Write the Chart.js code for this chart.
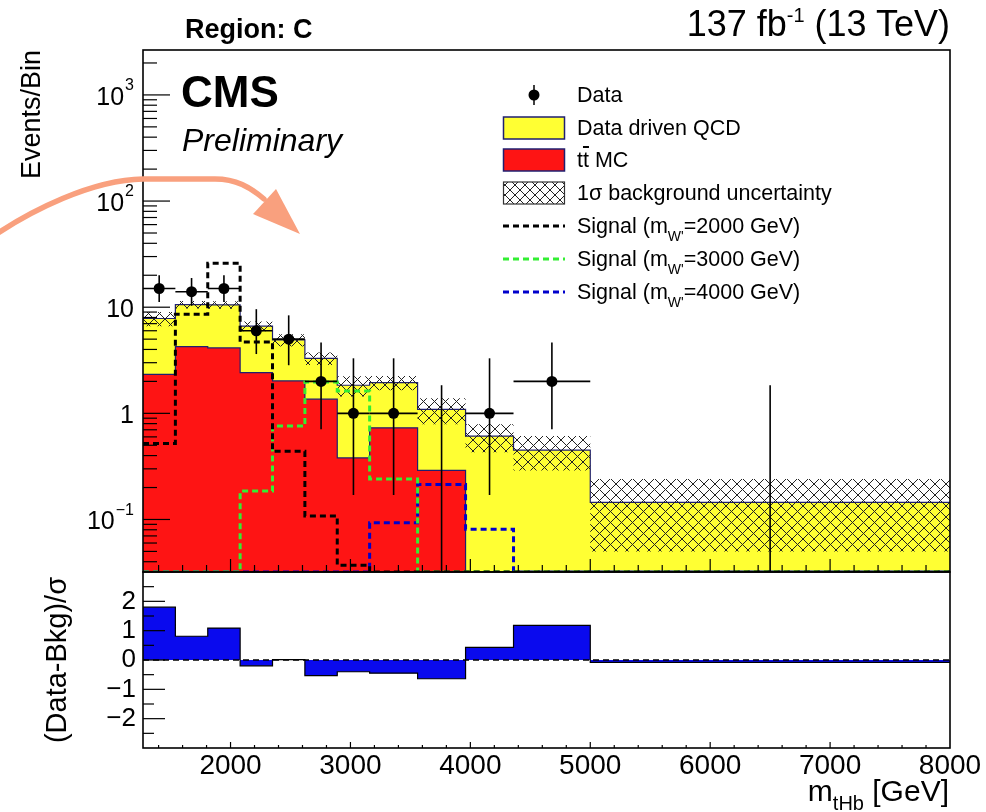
<!DOCTYPE html>
<html>
<head>
<meta charset="utf-8">
<script src="https://cdn.jsdelivr.net/npm/chart.js@4.4.0/dist/chart.umd.min.js"></script>
<style>
body{margin:0;background:#fff;}
#wrap{position:relative;width:986px;height:812px;overflow:hidden;background:#fff;font-family:"Liberation Sans",Arial,Helvetica,sans-serif;color:#000;}
#wrap canvas{position:absolute;left:0;top:0;}
#over{position:absolute;left:0;top:0;pointer-events:none;}
.t{position:absolute;white-space:nowrap;line-height:1;}
.lg{font-size:21.5px;left:577px;}
.sb{font-size:14px;position:relative;top:8px;}
</style>
</head>
<body>
<div id="wrap">
  <canvas id="cMain" width="986" height="812"></canvas>
  <canvas id="cRatio" width="986" height="812"></canvas>
  <svg id="over" width="986" height="812">
    <defs>
      <pattern id="hatchLeg" width="10" height="10" patternUnits="userSpaceOnUse">
        <path d="M0,0 L10,10 M10,0 L0,10" stroke="#222" stroke-width="1"/>
      </pattern>
    </defs>
    <g id="legSym"></g>
    <!-- annotation arrow -->
    <path d="M -2 233 C 30 212, 90 180, 143 179 L 215 179 C 236 179, 250 187, 264 199" fill="none" stroke="#f9a07e" stroke-width="5.5" stroke-linecap="round"/>
    <polygon points="300,234 253,214 276,189" fill="#f9a07e"/>
  </svg>
  <div class="t" style="left:185px;top:16px;font-size:27px;font-weight:bold;">Region: C</div>
  <div class="t" style="right:36px;top:6px;font-size:36px;">137 fb<span style="font-size:20px;position:relative;top:-14px;">-1</span> (13 TeV)</div>
  <div class="t" style="left:181px;top:70px;font-size:44px;font-weight:bold;">CMS</div>
  <div class="t" style="left:182px;top:124px;font-size:32px;font-style:italic;">Preliminary</div>
  <div class="t" style="right:37px;top:776px;font-size:30px;">m<span style="font-size:20px;position:relative;top:9px;">tHb</span> [GeV]</div>
  <div id="legTxt"></div>
</div>
<script>
// bin edges (GeV) of m_tHb
var binEdges=[1270,1540,1810,2080,2350,2620,2890,3160,3560,3960,4360,5000,8000];
// observed events and Poisson error bars
var dataObs=[15,14,15,6,5,2,1,1,0,1,2,0];
var dataErrLo=[3.82,3.70,3.82,2.38,2.16,1.29,0.83,0.83,0,0.83,1.29,0];
var dataErrHi=[4.96,4.83,4.96,3.58,3.38,2.64,2.30,2.30,1.84,2.30,2.64,1.84];
// backgrounds
var ttbar=[2.33,4.26,4.13,2.42,2.02,1.36,0.38,0.73,0.29,0,0,0];
var qcd=[5.5,6.3,6.4,4.2,2.9,1.94,1.46,1.22,0.80,0.61,0.45,0.145];
var bkgUnc=[1.2,0.85,0.85,0.7,0.65,0.45,0.4,0.3,0.3,0.18,0.16,0.095];
// signals
var sig2000=[0.52,8.6,26,4.7,0.44,0.108,0.037,0,0,0,0,0];
var sig3000=[0,0,0,0.185,0.76,1.97,1.62,0.24,0,0,0,0];
var sig4000=[0,0,0,0,0,0,0,0.093,0.214,0.081,0,0];
// ratio panel (Data-Bkg)/sigma
var pull=[1.80,0.81,1.09,-0.20,0.01,-0.53,-0.40,-0.45,-0.64,0.43,1.18,-0.08];
// axes
var xTicks=[2000,3000,4000,5000,6000,7000,8000];
var pullTicks=[-2,-1,0,1,2];
var yLabels=[{v:0.1,b:'10',e:'\u22121'},{v:1,b:'1',e:''},{v:10,b:'10',e:''},{v:100,b:'10',e:'2'},{v:1000,b:'10',e:'3'}];
var Y_MIN=0.032,Y_MAX=2650,X_MIN=1270,X_MAX=8000;

var legendRows=[
  'Data',
  'Data driven QCD',
  't<span style="text-decoration:overline">t</span> MC',
  '1\u03c3 background uncertainty',
  'Signal (m<span class="sb">W\'</span>=2000 GeV)',
  'Signal (m<span class="sb">W\'</span>=3000 GeV)',
  'Signal (m<span class="sb">W\'</span>=4000 GeV)'
];
var legendY=[95,128,160,193,226,259,292];

Chart.defaults.font.family='"Liberation Sans", Arial, Helvetica, sans-serif';
Chart.defaults.color='#000';

var YEL='#ffff33',RED='#fe1414',OUT='#1f1f70';

/* histogram -> stepped points; zero bins clamp to floor for log axis */
function steps(vals,floor){
  var pts=[];
  for(var i=0;i<vals.length;i++){
    var v=vals[i];if(floor!=null&&!(v>0))v=floor;
    pts.push({x:binEdges[i],y:v});
  }
  pts.push({x:binEdges[vals.length],y:pts[pts.length-1].y});
  return pts;
}
var total=qcd.map(function(q,i){return q+ttbar[i];});
var bandHi=total.map(function(t,i){return t+bkgUnc[i];});
var bandLo=total.map(function(t,i){return t-bkgUnc[i];});
var centers=dataObs.map(function(n,i){return{x:(binEdges[i]+binEdges[i+1])/2,y:n>0?n:null};});

function hatch(){
  var c=document.createElement('canvas');c.width=11;c.height=11;
  var g=c.getContext('2d');g.strokeStyle='#222';g.lineWidth=1;
  g.beginPath();g.moveTo(-1,-1);g.lineTo(12,12);g.moveTo(12,-1);g.lineTo(-1,12);g.stroke();
  return g.createPattern(c,'repeat');
}

function ln(ctx,x1,y1,x2,y2){ctx.beginPath();ctx.moveTo(x1,y1);ctx.lineTo(x2,y2);ctx.stroke();}

/* data error bars, drawn just under the markers */
var errBars={id:'errBars',beforeDatasetDraw:function(chart,args){
  if(chart.data.datasets[args.index].label!=='Data')return;
  var xs=chart.scales.x,ys=chart.scales.y,ctx=chart.ctx;
  ctx.save();ctx.strokeStyle='#000';ctx.lineWidth=1.6;
  dataObs.forEach(function(n,i){
    var xc=xs.getPixelForValue((binEdges[i]+binEdges[i+1])/2);
    var lo=n-dataErrLo[i];
    var yl=lo>Y_MIN?ys.getPixelForValue(lo):ys.bottom;
    ln(ctx,xc,yl,xc,ys.getPixelForValue(n+dataErrHi[i]));
    if(n>0){var yc=ys.getPixelForValue(n);ln(ctx,xs.getPixelForValue(binEdges[i]),yc,xs.getPixelForValue(binEdges[i+1]),yc);}
  });
  ctx.restore();
}};

/* frame, inner ticks and y labels of the main pad */
var mainDeco={id:'mainDeco',afterDraw:function(chart){
  var a=chart.chartArea,xs=chart.scales.x,ys=chart.scales.y,ctx=chart.ctx;
  ctx.save();ctx.strokeStyle='#000';ctx.lineWidth=1.2;
  for(var d=-2;d<=3;d++){
    for(var k=1;k<=9;k++){
      var v=k*Math.pow(10,d);if(v<Y_MIN||v>Y_MAX)continue;
      var y=ys.getPixelForValue(v);ln(ctx,a.left,y,a.left+(k===1?27:14),y);
    }
  }
  for(var g=1400;g<X_MAX;g+=200){
    var x=xs.getPixelForValue(g);ln(ctx,x,a.bottom,x,a.bottom-(g%1000===0?13:7));
  }
  ctx.lineWidth=1.6;ctx.strokeRect(a.left,a.top,a.right-a.left,a.bottom-a.top);
  ctx.fillStyle='#000';ctx.textBaseline='middle';
  yLabels.forEach(function(l){
    var y=ys.getPixelForValue(l.v),xr=134;
    if(l.e){
      ctx.font='16px "Liberation Sans", Arial';var we=ctx.measureText(l.e).width;
      ctx.textAlign='left';ctx.fillText(l.e,xr-we,y-9);xr-=we+1;
    }
    ctx.font='25px "Liberation Sans", Arial';ctx.textAlign='right';ctx.fillText(l.b,xr,y+3);
  });
  ctx.restore();
}};

var ratioDeco={id:'ratioDeco',afterDraw:function(chart){
  var a=chart.chartArea,xs=chart.scales.x,ys=chart.scales.y,ctx=chart.ctx;
  ctx.save();ctx.strokeStyle='#000';ctx.lineWidth=1.2;
  for(var v=-2.5;v<=2.5;v+=0.5){
    var y=ys.getPixelForValue(v);ln(ctx,a.left,y,a.left+(Math.abs(v%1)<0.01?22:11),y);
  }
  for(var g=1400;g<X_MAX;g+=200){
    var x=xs.getPixelForValue(g);ln(ctx,x,a.bottom,x,a.bottom-(g%1000===0?6:3));
  }
  ctx.lineWidth=1.6;ctx.strokeRect(a.left,a.top,a.right-a.left,a.bottom-a.top);
  ctx.restore();
}};

function stepDs(label,vals,color,dash,order){
  return{label:label,data:steps(vals,Y_MIN),stepped:true,borderColor:color,borderWidth:3,borderDash:dash,pointRadius:0,fill:false,order:order};
}

new Chart(document.getElementById('cMain'),{
  type:'line',
  data:{datasets:[
    {label:'Data',data:centers,showLine:false,pointRadius:5.5,pointBackgroundColor:'#000',pointBorderWidth:0,order:0},
    stepDs('Signal 2000',sig2000,'#000',[6,4],1),
    stepDs('Signal 3000',sig3000,'#33ee33',[6,4],2),
    stepDs('Signal 4000',sig4000,'#0000cc',[6,4],3),
    {label:'Unc hi',data:steps(bandHi,Y_MIN),stepped:true,borderWidth:0,pointRadius:0,backgroundColor:hatch(),fill:'+1',order:4},
    {label:'Unc lo',data:steps(bandLo,Y_MIN),stepped:true,borderWidth:0,pointRadius:0,fill:false,order:5},
    {label:'ttbar',data:steps(ttbar,Y_MIN),stepped:true,borderColor:OUT,borderWidth:1.2,backgroundColor:RED,pointRadius:0,fill:'start',order:6},
    {label:'QCD',data:steps(total,Y_MIN),stepped:true,borderColor:OUT,borderWidth:1.2,backgroundColor:YEL,pointRadius:0,fill:'start',order:7}
  ]},
  options:{
    responsive:false,animation:false,events:[],
    layout:{padding:{left:0,top:50,right:36,bottom:240}},
    plugins:{legend:{display:false},tooltip:{enabled:false}},
    scales:{
      x:{type:'linear',min:X_MIN,max:X_MAX,display:false},
      y:{type:'logarithmic',min:Y_MIN,max:Y_MAX,
        grid:{display:false},border:{display:false},ticks:{display:false},
        title:{display:true,text:'Events/Bin',align:'end',font:{size:27},padding:{top:16,bottom:0}},
        afterFit:function(s){s.width=143;s.paddingTop=0;s.paddingBottom=0;}}
    }
  },
  plugins:[errBars,mainDeco]
});

new Chart(document.getElementById('cRatio'),{
  type:'line',
  data:{datasets:[
    {label:'zero',data:[{x:X_MIN,y:0},{x:X_MAX,y:0}],borderColor:'#000',borderWidth:1.5,borderDash:[6,4],pointRadius:0,fill:false,order:0},
    {label:'pull',data:steps(pull,null),stepped:true,borderColor:'#000',borderWidth:1.2,backgroundColor:'#0a0aee',pointRadius:0,fill:'origin',order:1}
  ]},
  options:{
    responsive:false,animation:false,events:[],
    layout:{padding:{left:0,top:572,right:36,bottom:0}},
    plugins:{legend:{display:false},tooltip:{enabled:false}},
    scales:{
      x:{type:'linear',min:X_MIN,max:X_MAX,
        grid:{display:false,drawTicks:false},border:{display:false},
        ticks:{font:{size:28},padding:1,maxRotation:0,autoSkip:false,callback:function(v){return ''+v;}},
        afterBuildTicks:function(s){s.ticks=xTicks.map(function(v){return{value:v};});},
        afterFit:function(s){s.height=64;s.paddingLeft=0;s.paddingRight=0;}},
      y:{type:'linear',min:-3,max:3,
        grid:{display:false,drawTicks:false},border:{display:false},
        ticks:{font:{size:26},padding:7,callback:function(v){return v<0?'\u2212'+Math.abs(v):''+v;}},
        afterBuildTicks:function(s){s.ticks=pullTicks.map(function(v){return{value:v};});},
        title:{display:true,text:'(Data-Bkg)/\u03c3',align:'center',font:{size:29},padding:{top:41,bottom:0}},
        afterFit:function(s){s.width=143;s.paddingTop=0;s.paddingBottom=0;}}
    }
  },
  plugins:[ratioDeco]
});

/* legend */
var svgNS='http://www.w3.org/2000/svg',sym=document.getElementById('legSym'),txt=document.getElementById('legTxt');
function el(tag,attrs){var e=document.createElementNS(svgNS,tag);for(var k in attrs)e.setAttribute(k,attrs[k]);sym.appendChild(e);}
legendRows.forEach(function(h,i){
  var y=legendY[i];
  var d=document.createElement('div');d.className='t lg';d.style.top=(y-10.5)+'px';d.innerHTML=h;txt.appendChild(d);
  if(i===0){el('line',{x1:534,y1:85,x2:534,y2:105,stroke:'#000','stroke-width':1.5});el('circle',{cx:534,cy:y,r:5.5,fill:'#000'});}
  else if(i===1)el('rect',{x:503.5,y:y-11,width:61,height:22,fill:YEL,stroke:OUT,'stroke-width':1.5});
  else if(i===2)el('rect',{x:503.5,y:y-11,width:61,height:22,fill:RED,stroke:OUT,'stroke-width':1.5});
  else if(i===3)el('rect',{x:503.5,y:y-11,width:61,height:22,fill:'url(#hatchLeg)',stroke:'#333','stroke-width':1.2});
  else{var c=['#000','#33ee33','#0000cc'][i-4];el('line',{x1:503,y1:y,x2:565,y2:y,stroke:c,'stroke-width':3,'stroke-dasharray':'6 4'});}
});
</script>
</body>
</html>
